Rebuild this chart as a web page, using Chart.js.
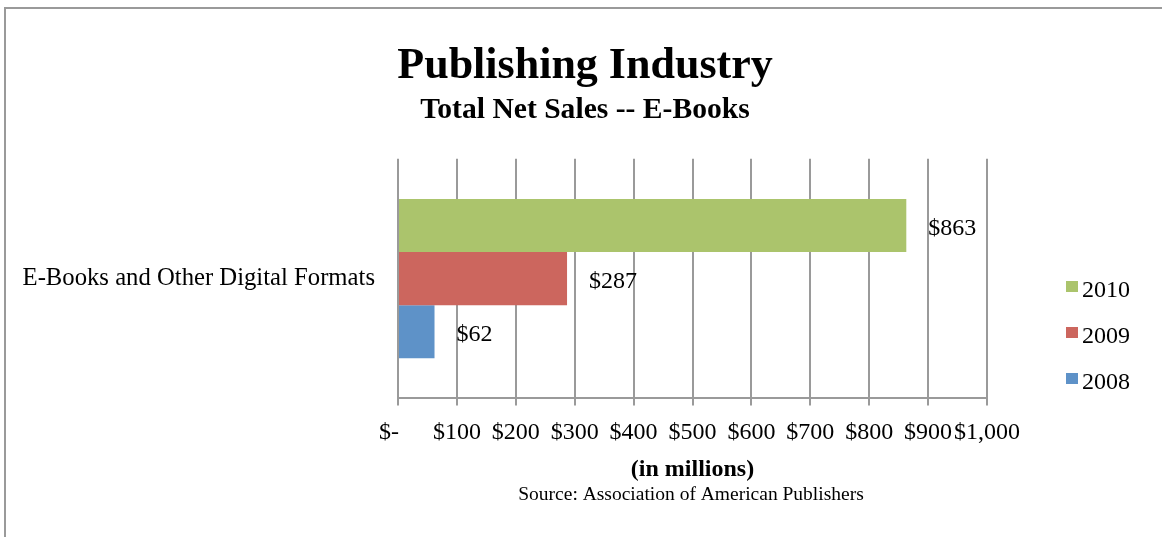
<!DOCTYPE html>
<html>
<head>
<meta charset="utf-8">
<title>Publishing Industry</title>
<script src="https://cdn.jsdelivr.net/npm/chart.js@4/dist/chart.umd.min.js"></script>
<style>
  html, body { margin: 0; padding: 0; background: #fff; overflow: hidden; }
  #frame { position: absolute; left: 4px; top: 7px; width: 1300px; height: 700px;
           border-top: 2px solid #9a9a9a; border-left: 2px solid #9a9a9a; }
  #wrap { position: absolute; left: 0; top: 0; width: 1162px; height: 537px; }
</style>
</head>
<body>
<div id="frame"></div>
<div id="wrap"><canvas id="chart" width="1162" height="537"></canvas></div>
<script>
// data (millions of dollars)
var categories = ['E-Books and Other Digital Formats'];
var years = ['2010', '2009', '2008'];
var sales2010 = [863];
var sales2009 = [287];
var sales2008 = [62];
var tickValues = [0, 100, 200, 300, 400, 500, 600, 700, 800, 900, 1000];

var colors = {
    '2010': '#abc46c',
    '2009': '#cc665e',
    '2008': '#5e92c8'
};
var serif = "'Liberation Serif', 'Times New Roman', serif";

function money(v) {
    if (v === 0) return '$-   ';
    return '$' + v.toLocaleString('en-US');
}

// value labels at the end of each bar
var barLabels = {
    id: 'barLabels',
    afterDatasetsDraw: function(chart) {
        var ctx = chart.ctx;
        ctx.save();
        ctx.font = '24px ' + serif;
        ctx.fillStyle = '#000';
        ctx.textAlign = 'left';
        ctx.textBaseline = 'middle';
        chart.data.datasets.forEach(function(ds, i) {
            chart.getDatasetMeta(i).data.forEach(function(bar, j) {
                ctx.fillText(money(ds.data[j]), bar.x + 22, bar.y + 3);
            });
        });
        ctx.restore();
    }
};

// legend on the right + source line
var sideText = {
    id: 'sideText',
    afterDraw: function(chart) {
        var ctx = chart.ctx;
        ctx.save();
        ctx.font = '24px ' + serif;
        ctx.textBaseline = 'middle';
        ctx.textAlign = 'left';
        chart.data.datasets.forEach(function(ds, i) {
            var y = 290 + i * 46;
            ctx.fillStyle = ds.backgroundColor;
            ctx.fillRect(1066, y - 9, 12, 11);
            ctx.fillStyle = '#000';
            ctx.fillText(ds.label, 1082, y + 1);
        });
        ctx.font = '19.5px ' + serif;
        ctx.textAlign = 'center';
        ctx.fillText('Source: Association of American Publishers', 691, 495);
        ctx.restore();
    }
};

new Chart(document.getElementById('chart'), {
    type: 'bar',
    data: {
        labels: categories,
        datasets: [
            { label: years[0], data: sales2010, backgroundColor: colors['2010'] },
            { label: years[1], data: sales2009, backgroundColor: colors['2009'] },
            { label: years[2], data: sales2008, backgroundColor: colors['2008'] }
        ]
    },
    options: {
        indexAxis: 'y',
        responsive: false,
        animation: false,
        events: [],
        layout: { padding: { left: 8, right: 0, top: 0, bottom: 53 } },
        datasets: { bar: { categoryPercentage: 0.665, barPercentage: 1.0 } },
        plugins: {
            legend: { display: false },
            tooltip: { enabled: false },
            title: {
                display: true,
                text: 'Publishing Industry',
                color: '#000',
                font: { family: serif, size: 44, weight: 'bold' },
                padding: { top: 40, bottom: 0 }
            },
            subtitle: {
                display: true,
                text: 'Total Net Sales -- E-Books',
                color: '#000',
                font: { family: serif, size: 29.6, weight: 'bold' },
                padding: { top: 0, bottom: 30.5 }
            }
        },
        scales: {
            x: {
                min: 0,
                max: 1000,
                afterBuildTicks: function(scale) {
                    scale.ticks = tickValues.map(function(v) { return { value: v }; });
                },
                grid: { color: '#9a9a9a', lineWidth: 2, drawTicks: true, tickLength: 7 },
                border: { display: true, color: '#9a9a9a', width: 2 },
                ticks: {
                    color: '#000',
                    font: { family: serif, size: 24 },
                    padding: 13,
                    autoSkip: false,
                    maxRotation: 0,
                    callback: function(v) { return money(v); }
                },
                title: {
                    display: true,
                    text: '(in millions)',
                    color: '#000',
                    font: { family: serif, size: 24, weight: 'bold' },
                    padding: { top: -5, bottom: 0 }
                }
            },
            y: {
                afterFit: function(scale) { scale.width = 390; },
                grid: { display: false, drawTicks: false },
                border: { display: false },
                ticks: {
                    color: '#000',
                    font: { family: serif, size: 24.7 },
                    padding: 23
                }
            },
            // empty box on the right, room for the legend
            side: {
                type: 'category',
                position: 'right',
                afterFit: function(scale) { scale.width = 175; },
                grid: { display: false, drawTicks: false },
                border: { display: false },
                ticks: { display: false }
            }
        }
    },
    plugins: [barLabels, sideText]
});
</script>
</body>
</html>
